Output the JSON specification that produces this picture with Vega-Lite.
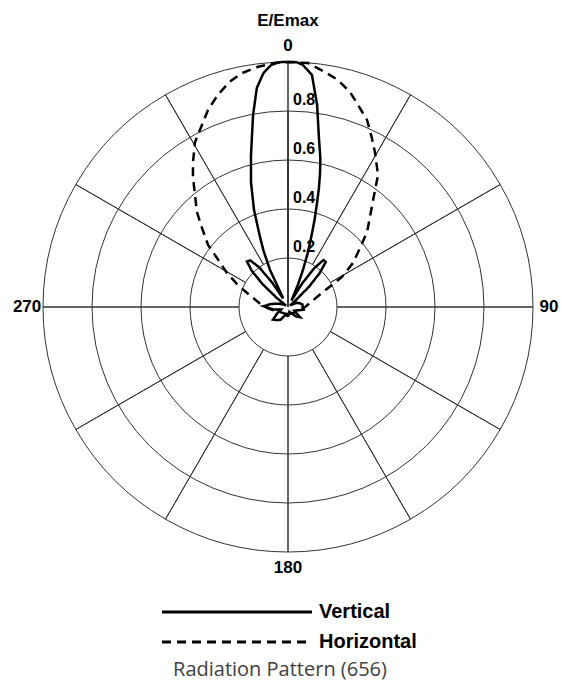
{
  "$schema": "https://vega.github.io/schema/vega-lite/v6.json",
  "width": 490,
  "height": 490,
  "autosize": "none",
  "padding": {"left": 43, "top": 62, "right": 28, "bottom": 139},
  "background": "white",
  "config": {"view": {"stroke": null}, "font": "Liberation Sans"},
  "title": {"text": "Radiation Pattern (656)", "orient": "bottom", "anchor": "middle", "frame": "group", "font": "Open Sans", "fontSize": 20, "fontWeight": "normal", "color": "#404040", "offset": 8, "dx": -8},
  "resolve": {"scale": {"theta": "independent"}},
  "layer": [
    {
      "data": {"values": [
        {"spoke": 0, "share": 1, "outer": 1, "inner": 0.2},
        {"spoke": 30, "share": 1, "outer": 1, "inner": 0.2},
        {"spoke": 60, "share": 1, "outer": 1, "inner": 0.2},
        {"spoke": 90, "share": 1, "outer": 1, "inner": 0.2},
        {"spoke": 120, "share": 1, "outer": 1, "inner": 0.2},
        {"spoke": 150, "share": 1, "outer": 1, "inner": 0.2},
        {"spoke": 180, "share": 1, "outer": 1, "inner": 0.2},
        {"spoke": 210, "share": 1, "outer": 1, "inner": 0.2},
        {"spoke": 240, "share": 1, "outer": 1, "inner": 0.2},
        {"spoke": 270, "share": 1, "outer": 1, "inner": 0.2},
        {"spoke": 300, "share": 1, "outer": 1, "inner": 0.2},
        {"spoke": 330, "share": 1, "outer": 1, "inner": 0.2}
      ]},
      "mark": {"type": "arc", "filled": false, "stroke": "#333333", "strokeWidth": 1},
      "encoding": {
        "theta": {"field": "share", "type": "quantitative", "stack": true},
        "radius": {"field": "outer", "type": "quantitative", "stack": false, "scale": {"type": "linear", "domain": [0, 1], "zero": true}},
        "radius2": {"field": "inner"}
      }
    },
    {
      "data": {"values": [{"ring": 0.4}, {"ring": 0.6}, {"ring": 0.8}]},
      "mark": {"type": "arc", "filled": false, "stroke": "#333333", "strokeWidth": 1},
      "encoding": {
        "theta": {"datum": 0, "type": "quantitative", "stack": false, "scale": {"domain": [0, 360], "range": [0, 6.2831853]}},
        "theta2": {"datum": 360},
        "radius": {"field": "ring", "type": "quantitative", "stack": false, "scale": {"type": "linear", "domain": [0, 1], "zero": true}}
      }
    },
    {
      "data": {"values": [
        {"series": "Vertical", "angle": -180, "e": 0.04},
        {"series": "Vertical", "angle": -165, "e": 0.03},
        {"series": "Vertical", "angle": -150, "e": 0.06},
        {"series": "Vertical", "angle": -140, "e": 0.07},
        {"series": "Vertical", "angle": -130, "e": 0.08},
        {"series": "Vertical", "angle": -120, "e": 0.05},
        {"series": "Vertical", "angle": -110, "e": 0.03},
        {"series": "Vertical", "angle": -100, "e": 0.06},
        {"series": "Vertical", "angle": -88, "e": 0.1},
        {"series": "Vertical", "angle": -80, "e": 0.07},
        {"series": "Vertical", "angle": -70, "e": 0.04},
        {"series": "Vertical", "angle": -60, "e": 0.02},
        {"series": "Vertical", "angle": -54, "e": 0.01},
        {"series": "Vertical", "angle": -51, "e": 0.06},
        {"series": "Vertical", "angle": -48, "e": 0.14},
        {"series": "Vertical", "angle": -45, "e": 0.21},
        {"series": "Vertical", "angle": -42, "e": 0.25},
        {"series": "Vertical", "angle": -39, "e": 0.245},
        {"series": "Vertical", "angle": -36, "e": 0.2},
        {"series": "Vertical", "angle": -33, "e": 0.12},
        {"series": "Vertical", "angle": -30, "e": 0.04},
        {"series": "Vertical", "angle": -28, "e": 0.05},
        {"series": "Vertical", "angle": -25.9, "e": 0.168},
        {"series": "Vertical", "angle": -23.5, "e": 0.25},
        {"series": "Vertical", "angle": -21.8, "e": 0.308},
        {"series": "Vertical", "angle": -19.3, "e": 0.42},
        {"series": "Vertical", "angle": -16.5, "e": 0.532},
        {"series": "Vertical", "angle": -13.7, "e": 0.638},
        {"series": "Vertical", "angle": -10.3, "e": 0.797},
        {"series": "Vertical", "angle": -8.1, "e": 0.903},
        {"series": "Vertical", "angle": -6, "e": 0.96},
        {"series": "Vertical", "angle": -4, "e": 0.99},
        {"series": "Vertical", "angle": -2, "e": 1.0},
        {"series": "Vertical", "angle": 0, "e": 1.0},
        {"series": "Vertical", "angle": 2, "e": 1.0},
        {"series": "Vertical", "angle": 3.5, "e": 0.99},
        {"series": "Vertical", "angle": 5.9, "e": 0.952},
        {"series": "Vertical", "angle": 8.2, "e": 0.833},
        {"series": "Vertical", "angle": 10.4, "e": 0.7},
        {"series": "Vertical", "angle": 12.3, "e": 0.62},
        {"series": "Vertical", "angle": 13.5, "e": 0.56},
        {"series": "Vertical", "angle": 14.6, "e": 0.5},
        {"series": "Vertical", "angle": 15.6, "e": 0.44},
        {"series": "Vertical", "angle": 17, "e": 0.37},
        {"series": "Vertical", "angle": 18.4, "e": 0.3},
        {"series": "Vertical", "angle": 20.2, "e": 0.23},
        {"series": "Vertical", "angle": 22, "e": 0.163},
        {"series": "Vertical", "angle": 24, "e": 0.1},
        {"series": "Vertical", "angle": 26, "e": 0.05},
        {"series": "Vertical", "angle": 28, "e": 0.03},
        {"series": "Vertical", "angle": 29, "e": 0.04},
        {"series": "Vertical", "angle": 31, "e": 0.11},
        {"series": "Vertical", "angle": 34, "e": 0.19},
        {"series": "Vertical", "angle": 37, "e": 0.24},
        {"series": "Vertical", "angle": 40, "e": 0.24},
        {"series": "Vertical", "angle": 43, "e": 0.19},
        {"series": "Vertical", "angle": 46, "e": 0.12},
        {"series": "Vertical", "angle": 49, "e": 0.04},
        {"series": "Vertical", "angle": 52, "e": 0.01},
        {"series": "Vertical", "angle": 58, "e": 0.02},
        {"series": "Vertical", "angle": 65, "e": 0.04},
        {"series": "Vertical", "angle": 72, "e": 0.05},
        {"series": "Vertical", "angle": 80, "e": 0.06},
        {"series": "Vertical", "angle": 90, "e": 0.06},
        {"series": "Vertical", "angle": 100, "e": 0.065},
        {"series": "Vertical", "angle": 110, "e": 0.04},
        {"series": "Vertical", "angle": 120, "e": 0.03},
        {"series": "Vertical", "angle": 130, "e": 0.065},
        {"series": "Vertical", "angle": 140, "e": 0.05},
        {"series": "Vertical", "angle": 150, "e": 0.03},
        {"series": "Vertical", "angle": 165, "e": 0.02},
        {"series": "Vertical", "angle": 180, "e": 0.04},
        {"series": "Horizontal", "angle": -180, "e": 0.03},
        {"series": "Horizontal", "angle": -150, "e": 0.03},
        {"series": "Horizontal", "angle": -120, "e": 0.04},
        {"series": "Horizontal", "angle": -95, "e": 0.08},
        {"series": "Horizontal", "angle": -85, "e": 0.11},
        {"series": "Horizontal", "angle": -74.5, "e": 0.153},
        {"series": "Horizontal", "angle": -66.3, "e": 0.223},
        {"series": "Horizontal", "angle": -60.9, "e": 0.285},
        {"series": "Horizontal", "angle": -55.4, "e": 0.352},
        {"series": "Horizontal", "angle": -52.2, "e": 0.413},
        {"series": "Horizontal", "angle": -47.4, "e": 0.477},
        {"series": "Horizontal", "angle": -43.8, "e": 0.537},
        {"series": "Horizontal", "angle": -39.7, "e": 0.594},
        {"series": "Horizontal", "angle": -36.2, "e": 0.657},
        {"series": "Horizontal", "angle": -33.2, "e": 0.708},
        {"series": "Horizontal", "angle": -29.4, "e": 0.773},
        {"series": "Horizontal", "angle": -25.3, "e": 0.822},
        {"series": "Horizontal", "angle": -22.1, "e": 0.868},
        {"series": "Horizontal", "angle": -18.3, "e": 0.912},
        {"series": "Horizontal", "angle": -14.5, "e": 0.95},
        {"series": "Horizontal", "angle": -11.1, "e": 0.973},
        {"series": "Horizontal", "angle": -7.1, "e": 0.988},
        {"series": "Horizontal", "angle": -3, "e": 0.998},
        {"series": "Horizontal", "angle": 0, "e": 1.0},
        {"series": "Horizontal", "angle": 4.7, "e": 0.999},
        {"series": "Horizontal", "angle": 8.9, "e": 0.971},
        {"series": "Horizontal", "angle": 12.4, "e": 0.949},
        {"series": "Horizontal", "angle": 16.1, "e": 0.913},
        {"series": "Horizontal", "angle": 19.1, "e": 0.873},
        {"series": "Horizontal", "angle": 22.9, "e": 0.829},
        {"series": "Horizontal", "angle": 26.4, "e": 0.77},
        {"series": "Horizontal", "angle": 29.3, "e": 0.725},
        {"series": "Horizontal", "angle": 34.3, "e": 0.652},
        {"series": "Horizontal", "angle": 38.5, "e": 0.558},
        {"series": "Horizontal", "angle": 42.3, "e": 0.497},
        {"series": "Horizontal", "angle": 46.5, "e": 0.445},
        {"series": "Horizontal", "angle": 50.7, "e": 0.38},
        {"series": "Horizontal", "angle": 55.9, "e": 0.32},
        {"series": "Horizontal", "angle": 60.9, "e": 0.252},
        {"series": "Horizontal", "angle": 64.6, "e": 0.181},
        {"series": "Horizontal", "angle": 71, "e": 0.125},
        {"series": "Horizontal", "angle": 80, "e": 0.09},
        {"series": "Horizontal", "angle": 90, "e": 0.07},
        {"series": "Horizontal", "angle": 120, "e": 0.04},
        {"series": "Horizontal", "angle": 150, "e": 0.03},
        {"series": "Horizontal", "angle": 180, "e": 0.03}
      ]},
      "transform": [
        {"calculate": "datum.e * sin(datum.angle * PI / 180)", "as": "px"},
        {"calculate": "datum.e * cos(datum.angle * PI / 180)", "as": "py"}
      ],
      "mark": {"type": "line", "color": "black", "strokeWidth": 2.5, "clip": false},
      "encoding": {
        "x": {"field": "px", "type": "quantitative", "scale": {"domain": [-1, 1]}, "axis": null},
        "y": {"field": "py", "type": "quantitative", "scale": {"domain": [-1, 1]}, "axis": null},
        "order": {"field": "angle", "type": "quantitative"},
        "strokeDash": {
          "field": "series", "type": "nominal",
          "scale": {"domain": ["Vertical", "Horizontal"], "range": [[1, 0], [9, 6]]},
          "legend": {
            "orient": "none", "legendX": 184, "legendY": 540, "title": null,
            "symbolType": "M-15,0H15", "symbolSize": 100, "symbolStrokeWidth": 3, "symbolStrokeColor": "black",
            "labelFont": "Liberation Sans", "labelFontSize": 20, "labelFontWeight": "bold", "labelColor": "black",
            "labelOffset": 72, "rowPadding": 10
          }
        }
      }
    },
    {
      "data": {"values": [{"ring": 0.2}, {"ring": 0.4}, {"ring": 0.6}, {"ring": 0.8}]},
      "mark": {"type": "text", "align": "left", "baseline": "alphabetic", "dx": 5, "dy": -6, "font": "Liberation Sans", "fontSize": 16, "fontWeight": "bold", "color": "black"},
      "encoding": {
        "x": {"datum": 0, "type": "quantitative", "scale": {"domain": [-1, 1]}},
        "y": {"field": "ring", "type": "quantitative", "scale": {"domain": [-1, 1]}},
        "text": {"field": "ring", "type": "quantitative", "format": ".1f"}
      }
    },
    {
      "data": {"values": [{"angle": 0}, {"angle": 90}, {"angle": 180}, {"angle": 270}]},
      "mark": {"type": "text", "align": "center", "baseline": "middle", "font": "Liberation Sans", "fontSize": 17, "fontWeight": "bold", "color": "black"},
      "encoding": {
        "theta": {"field": "angle", "type": "quantitative", "stack": false, "scale": {"domain": [0, 360], "range": [0, 6.2831853]}},
        "radius": {"datum": 1.065, "type": "quantitative", "stack": false, "scale": {"type": "linear", "domain": [0, 1], "zero": true}},
        "text": {"field": "angle", "type": "quantitative"}
      }
    },
    {
      "data": {"values": [{"label": "E/Emax"}]},
      "mark": {"type": "text", "align": "center", "baseline": "middle", "font": "Liberation Sans", "fontSize": 17, "fontWeight": "bold", "color": "black"},
      "encoding": {
        "x": {"datum": 0, "type": "quantitative", "scale": {"domain": [-1, 1]}},
        "y": {"datum": 1.167, "type": "quantitative", "scale": {"domain": [-1, 1]}},
        "text": {"field": "label"}
      }
    }
  ]
}
